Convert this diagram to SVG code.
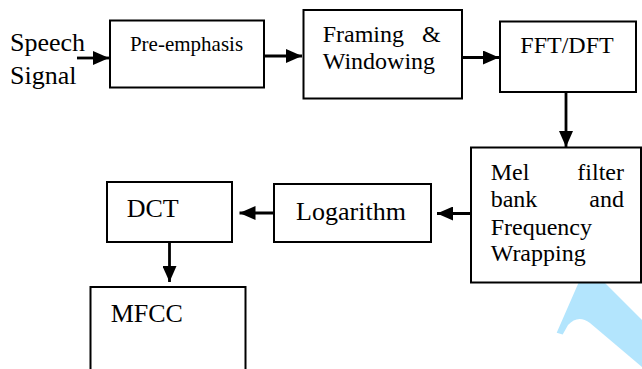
<svg xmlns="http://www.w3.org/2000/svg" width="642" height="369" viewBox="0 0 642 369">
  <defs>
    <marker id="arrow" markerUnits="userSpaceOnUse" markerWidth="16" markerHeight="14" refX="16" refY="7" orient="auto">
      <path d="M0,0 L16,7 L0,14 Z" fill="#000"/>
    </marker>
    <style>
      .box { fill: #fff; stroke: #000; stroke-width: 2; }
      .lbl { fill: #000; }
      .conn { stroke: #000; stroke-width: 2.8; fill: none; marker-end: url(#arrow); }
    </style>
  </defs>
  <rect width="642" height="369" fill="#fff"/>

  <!-- light blue stroke mark in the lower right corner -->
  <path d="M556.7,332.7 L585,268 L590,268 L642,320 L642,367 L590,323 Q578,314 568,325 L562.7,334.5 Z" fill="#b3e5fd"/>

  <g font-family="'Liberation Serif', 'DejaVu Serif', serif">
  <text class="lbl" x="10" y="51" font-size="26">Speech</text>
  <text class="lbl" x="10" y="84" font-size="26">Signal</text>

  <g id="connectors">
    <line class="conn" x1="77" y1="58" x2="109" y2="58"/>
    <line class="conn" x1="265" y1="56" x2="302" y2="56"/>
    <line class="conn" x1="462" y1="57.5" x2="499" y2="57.5"/>
    <line class="conn" x1="566" y1="92" x2="566" y2="147"/>
    <line class="conn" x1="470" y1="213.5" x2="437" y2="213.5"/>
    <line class="conn" x1="273" y1="213" x2="239.5" y2="213"/>
    <line class="conn" x1="169.5" y1="242" x2="169.5" y2="282"/>
  </g>

  <g id="pre-emphasis">
    <rect class="box" x="110" y="20.5" width="154" height="67"/>
    <text class="lbl" x="186.5" y="51" font-size="21" text-anchor="middle">Pre-emphasis</text>
  </g>

  <g id="framing">
    <rect class="box" x="303.5" y="10" width="158.5" height="88.5"/>
    <text class="lbl" x="322.7" y="42" font-size="24">Framing</text>
    <text class="lbl" x="440.7" y="42" font-size="24" text-anchor="end">&amp;</text>
    <text class="lbl" x="322.7" y="69" font-size="24">Windowing</text>
  </g>

  <g id="fft">
    <rect class="box" x="500" y="21.5" width="136" height="70.5"/>
    <text class="lbl" x="567" y="53.3" font-size="24" text-anchor="middle">FFT/DFT</text>
  </g>

  <g id="mel">
    <rect class="box" x="471" y="147.5" width="170" height="135"/>
    <text class="lbl" x="490.7" y="180" font-size="24">Mel</text>
    <text class="lbl" x="624" y="180" font-size="24" text-anchor="end">filter</text>
    <text class="lbl" x="490.7" y="207.3" font-size="24">bank</text>
    <text class="lbl" x="624" y="207.3" font-size="24" text-anchor="end">and</text>
    <text class="lbl" x="490.7" y="235" font-size="24">Frequency</text>
    <text class="lbl" x="490.7" y="261" font-size="24">Wrapping</text>
  </g>

  <g id="logarithm">
    <rect class="box" x="274" y="184" width="157" height="58"/>
    <text class="lbl" x="351" y="220" font-size="26" text-anchor="middle">Logarithm</text>
  </g>

  <g id="dct">
    <rect class="box" x="107" y="182" width="125" height="60"/>
    <text class="lbl" x="126.7" y="216.7" font-size="26">DCT</text>
  </g>

  <g id="mfcc">
    <rect class="box" x="90.5" y="287" width="155" height="100"/>
    <text class="lbl" x="110.7" y="321.7" font-size="26">MFCC</text>
  </g>
  </g>
</svg>
